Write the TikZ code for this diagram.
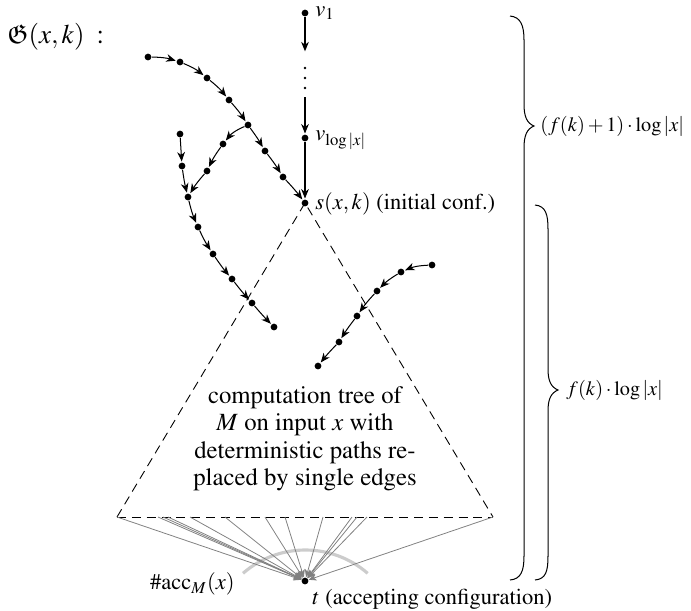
\documentclass[tikz,border=0pt]{standalone}
\usepackage[T1]{fontenc}
\usepackage{mathptmx}
\usepackage{amssymb}
\usetikzlibrary{arrows.meta}
\begin{document}
\begin{tikzpicture}[x=0.4444pt,y=0.4444pt,
  dot/.style={circle,fill=black,inner sep=0pt,minimum size=3pt},
  smalldot/.style={circle,fill=black,inner sep=0pt,minimum size=1.2pt},
  arr/.style={-{Stealth[length=4.2pt,width=3.4pt,inset=1.3pt]},line width=0.45pt,shorten >=0.3pt},
  fan/.style={-{Stealth[length=3.5pt,width=3pt,inset=1pt]},draw=black!50,line width=0.35pt},
  tri/.style={dash pattern=on 4pt off 2.6pt,line width=0.4pt},
  brace/.style={line width=0.45pt},
  lbl/.style={inner sep=0pt,anchor=west}]
\useasboundingbox (0,0) rectangle (691,-610);

% title
\node[lbl,font=\large] (title) at (7,-37) {$\mathfrak{G}(x,k)\;:$};

% vertical chain
\node[dot] (v1) at (305,-13) {};
\node[lbl] (v1l) at (315,-13) {$v_1$};
\coordinate (c1) at (305,-52);
\node[smalldot] (p1) at (305,-68) {};
\node[smalldot] (p2) at (305,-78) {};
\node[smalldot] (p3) at (305,-88) {};
\coordinate (c2) at (305,-97);
\node[dot] (vl) at (305,-138) {};
\node[lbl] (vll) at (315,-140) {$v_{\log|x|}$};
\node[dot] (s) at (305,-203) {};
\node[lbl] (sl) at (315,-204) {$s(x,k)$ (initial conf.)};
\draw[arr] (v1) -- (c1);
\draw[arr] (c2) -- (vl);
\draw[arr] (vl) -- (s);

% main curve
\node[dot] (a1) at (148,-57) {};
\node[dot] (a2) at (180,-62) {};
\node[dot] (a3) at (207,-78) {};
\node[dot] (a4) at (229,-100) {};
\node[dot] (a5) at (248,-125) {};
\node[dot] (a6) at (265,-151) {};
\node[dot] (a7) at (283,-177) {};
\draw[arr] (a1) to[bend left=8] (a2);
\draw[arr] (a2) to[bend left=8] (a3);
\draw[arr] (a3) to[bend left=6] (a4);
\draw[arr] (a4) to[bend left=4] (a5);
\draw[arr] (a5) to[bend left=3] (a6);
\draw[arr] (a6) to[bend left=3] (a7);
\draw[arr] (a7) to[bend left=3] (s);

% branch
\node[dot] (b1) at (223,-144) {};
\node[dot] (b2) at (207,-171) {};
\node[dot] (b3) at (188,-197) {};
\draw[arr] (a5) to[bend right=14] (b1);
\draw[arr] (b1) to[bend right=5] (b2);
\draw[arr] (b2) to[bend right=5] (b3);

\node[dot] (d1) at (180,-134) {};
\node[dot] (d2) at (182,-166) {};
\draw[arr] (d1) -- (d2);
\draw[arr] (d2) to[bend right=3] (b3);

\node[dot] (e1) at (198,-227) {};
\node[dot] (e2) at (213,-254) {};
\node[dot] (e3) at (232,-279) {};
\node[dot] (e4) at (252,-303) {};
\node[dot] (e5) at (274,-327) {};
\draw[arr] (b3) to[bend right=5] (e1);
\draw[arr] (e1) to[bend right=4] (e2);
\draw[arr] (e2) to[bend right=3] (e3);
\draw[arr] (e3) to[bend right=2] (e4);
\draw[arr] (e4) to[bend right=2] (e5);

% right curve
\node[dot] (r1) at (432,-265) {};
\node[dot] (r2) at (401,-272) {};
\node[dot] (r3) at (377,-291) {};
\node[dot] (r4) at (357,-316) {};
\node[dot] (r5) at (339,-342) {};
\node[dot] (r6) at (318,-366) {};
\draw[arr] (r1) to[bend right=10] (r2);
\draw[arr] (r2) to[bend right=7] (r3);
\draw[arr] (r3) to[bend right=4] (r4);
\draw[arr] (r4) to[bend right=3] (r5);
\draw[arr] (r5) to[bend right=3] (r6);

% triangle
\coordinate (L) at (117,-517);
\coordinate (R) at (493,-517);
\draw[tri] (L) -- (s.center) -- (R);
\draw[tri] (L) -- (R);
\node[align=center,inner sep=0pt,font=\fontsize{11}{12.2}\selectfont] (txt) at (305,-439)
  {computation tree of\\ $M$ on input $x$ with\\ deterministic paths re-\\ placed by single edges};

% accepting configuration
\node[dot] (t) at (305,-581) {};
\node[lbl] (tl) at (312,-599) {$t$ (accepting configuration)};
\node[inner sep=0pt,anchor=east] (acc) at (235,-584) {$\#\mathrm{acc}_M(x)$};

\draw[black!20,line width=1.4pt] (243,-573.3) arc[start angle=131,end angle=49,radius=95];

\foreach \i/\xx in {1/117,2/158,3/163,4/168,5/190,6/225,7/265,8/285,9/323,10/352,11/357,12/367,13/493}{
  \coordinate (f\i) at (\xx,-517);
  \draw[fan] (f\i) -- (t);
}

% braces
\draw[brace] (510,-16) .. controls (521,-17) and (524,-26) .. (524,-40) -- (524,-104)
  .. controls (524,-117) and (527,-123) .. (534,-126)
  .. controls (527,-129) and (524,-135) .. (524,-148) -- (524,-556)
  .. controls (524,-571) and (521,-579) .. (510,-580);
\node[lbl,font=\small] (bl1) at (540,-126) {$(f(k)+1)\cdot\log|x|$};

\draw[brace] (535,-205) .. controls (546,-206) and (548,-215) .. (548,-229) -- (548,-369)
  .. controls (548,-381) and (551,-387) .. (558,-390)
  .. controls (551,-393) and (548,-399) .. (548,-411) -- (548,-556)
  .. controls (548,-571) and (546,-579) .. (535,-580);
\node[lbl,font=\small] (bl2) at (566,-390) {$f(k)\cdot\log|x|$};
\end{tikzpicture}
\end{document}
